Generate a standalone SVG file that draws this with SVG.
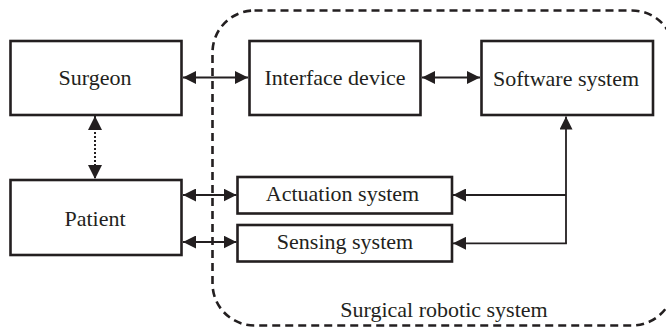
<svg xmlns="http://www.w3.org/2000/svg" width="666" height="331" viewBox="0 0 666 331">
<style>
.box{fill:#fff;stroke:#231f20;stroke-width:2.6}
.lbl{font-family:"Liberation Serif","Times New Roman",serif;font-size:22px;fill:#231f20;text-anchor:middle}
.ln{fill:none;stroke:#231f20;stroke-width:1.8}
.dot{fill:none;stroke:#231f20;stroke-width:2;stroke-dasharray:2 2}
.dash{fill:none;stroke:#231f20;stroke-width:2.6;stroke-dasharray:8 5}
</style>
<defs>
<marker id="ah" viewBox="0 0 13 13" refX="13" refY="6.5" markerWidth="13" markerHeight="13" markerUnits="userSpaceOnUse" orient="auto-start-reverse">
<path d="M0,0 L13,6.5 L0,13 Z" fill="#231f20"/>
</marker>
<marker id="ahv" viewBox="0 0 14 14" refX="14" refY="7" markerWidth="14" markerHeight="14" markerUnits="userSpaceOnUse" orient="auto-start-reverse">
<path d="M0,0 L14,7 L0,14 Z" fill="#231f20"/>
</marker>
</defs>
<g id="boundary">
<rect class="dash" x="212.5" y="10.5" width="461.5" height="315" rx="42" ry="42"/>
<text class="lbl" x="444" y="317">Surgical robotic system</text>
</g>
<g id="connectors">
<line class="ln" x1="183" y1="77.5" x2="248" y2="77.5" marker-start="url(#ah)" marker-end="url(#ah)"/>
<line class="ln" x1="422" y1="77.5" x2="480" y2="77.5" marker-start="url(#ah)" marker-end="url(#ah)"/>
<line class="dot" x1="95" y1="116" x2="95" y2="179" marker-start="url(#ahv)" marker-end="url(#ahv)"/>
<line class="ln" x1="183" y1="195" x2="236.5" y2="195" marker-start="url(#ah)" marker-end="url(#ah)"/>
<line class="ln" x1="183" y1="242" x2="236.5" y2="242" marker-start="url(#ah)" marker-end="url(#ah)"/>
<polyline class="ln" points="566,243.5 566,116.5" marker-end="url(#ah)"/>
<line class="ln" x1="566" y1="195" x2="453" y2="195" marker-end="url(#ah)"/>
<line class="ln" x1="566.9" y1="243.3" x2="453" y2="243.3" marker-end="url(#ah)"/>
</g>
<g id="surgeon">
<rect class="box" x="10.5" y="41" width="171" height="74"/>
<text class="lbl" x="95" y="85">Surgeon</text>
</g>
<g id="interface">
<rect class="box" x="249.5" y="41" width="171" height="74"/>
<text class="lbl" x="335" y="85">Interface device</text>
</g>
<g id="software">
<rect class="box" x="481.5" y="41" width="171.5" height="74"/>
<text class="lbl" x="566" y="86">Software system</text>
</g>
<g id="patient">
<rect class="box" x="10.5" y="180" width="171" height="75"/>
<text class="lbl" x="95" y="225.5">Patient</text>
</g>
<g id="actuation">
<rect class="box" x="237.5" y="177" width="214.5" height="36.5"/>
<text class="lbl" x="342.5" y="201">Actuation system</text>
</g>
<g id="sensing">
<rect class="box" x="237.5" y="225" width="214.5" height="36.5"/>
<text class="lbl" x="345" y="248.5">Sensing system</text>
</g>
</svg>
